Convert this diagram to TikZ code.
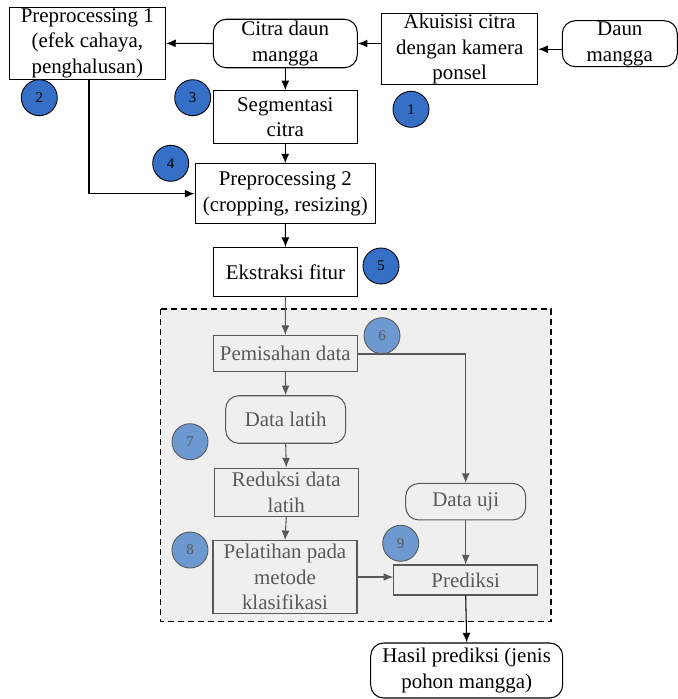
\documentclass[tikz,border=0pt]{standalone}
\usepackage{fontspec}
\setmainfont{Liberation Serif}
\usetikzlibrary{arrows.meta}
\definecolor{numblue}{HTML}{3570C6}
\definecolor{numpale}{HTML}{6E98D0}
\definecolor{fadegray}{HTML}{595959}
\definecolor{areagray}{HTML}{EFEFEF}

\begin{document}
\begin{tikzpicture}[scale=0.2]
\tikzstyle{every node}+=[inner sep=0pt, font=\fontsize{11.9pt}{14.5pt}\selectfont]
\tikzstyle{box}=[draw=black, line width=0.6pt, align=center]
\tikzstyle{rbox}=[box, rounded corners=0.26cm]
\tikzstyle{fbox}=[box, draw=fadegray, text=fadegray]
\tikzstyle{frbox}=[fbox, rounded corners=0.26cm]
\tikzstyle{num}=[circle, draw=black, line width=0.5pt, fill=numblue, minimum size=0.72cm, font=\fontsize{8.5pt}{10pt}\selectfont]
\tikzstyle{fnum}=[num, draw=fadegray, fill=numpale, text=fadegray]
\tikzstyle{arr}=[-{Latex[length=5.5pt,width=4.5pt]}, line width=0.6pt]
\tikzstyle{farr}=[arr, draw=fadegray]

\useasboundingbox (0,0) rectangle (67.8,-69.9);

% grey area
\draw [dash pattern=on 0.12cm off 0.08cm, line width=0.9pt, fill=areagray] (16.07,-30.9) rectangle (55.1,-62.17);

% top row
\draw (8.73,-4.33) node [box, minimum width=3.13cm, minimum height=1.44cm] (pre1) {Preprocessing 1\\(efek cahaya,\\penghalusan)};
\draw (28.53,-4.35) node [rbox, minimum width=2.88cm, minimum height=0.97cm] (citra) {Citra daun\\mangga};
\draw (45.97,-4.92) node [box, minimum width=3.12cm, minimum height=1.43cm] (akuisisi) {Akuisisi citra\\dengan kamera\\ponsel};
\draw (61.98,-4.37) node [rbox, minimum width=2.3cm, minimum height=0.92cm] (daun) {Daun\\mangga};

% middle column
\draw (28.53,-11.73) node [box, minimum width=2.88cm, minimum height=1.06cm] (segmen) {Segmentasi\\citra};
\draw (28.53,-19.37) node [box, minimum width=3.61cm, minimum height=1.19cm] (pre2) {Preprocessing 2\\(cropping, resizing)};
\draw (28.55,-27.18) node [box, minimum width=2.89cm, minimum height=0.97cm] (fitur) {Ekstraksi fitur};

% inside the grey area
\draw (28.53,-35.33) node [fbox, minimum width=2.88cm, minimum height=0.71cm] (pisah) {Pemisahan data};
\draw (28.57,-41.95) node [frbox, minimum width=2.4cm, minimum height=0.95cm] (latih) {Data latih};
\draw (28.63,-49.23) node [fbox, minimum width=2.89cm, minimum height=0.97cm] (reduksi) {Reduksi data\\latih};
\draw (28.5,-57.7) node [fbox, minimum width=2.88cm, minimum height=1.45cm] (latihan) {Pelatihan pada\\metode\\klasifikasi};
\draw (46.57,-50.17) node [frbox, minimum width=2.4cm, minimum height=0.73cm] (uji) {Data uji};
\draw (46.57,-58) node [fbox, minimum width=2.88cm, minimum height=0.6cm] (prediksi) {Prediksi};

\draw (46.67,-67.05) node [rbox, minimum width=3.84cm, minimum height=1.1cm] (hasil) {Hasil prediksi (jenis\\pohon mangga)};

% numbers
\draw (41.1,-10.93) node [num] (n1) {1};
\draw (3.93,-9.77) node [num] (n2) {2};
\draw (19.27,-9.77) node [num] (n3) {3};
\draw (17.07,-16.33) node [num] (n4) {4};
\draw (38.1,-26.6) node [num] (n5) {5};
\draw (38.2,-33.57) node [fnum] (n6) {6};
\draw (19,-44.17) node [fnum] (n7) {7};
\draw (19,-55) node [fnum] (n8) {8};
\draw (40.07,-54.33) node [fnum] (n9) {9};

% connectors
\draw [arr] (daun.west |- akuisisi.east) -- (akuisisi.east);
\draw [arr] (akuisisi.west |- citra.east) -- (citra.east);
\draw [arr] (citra.west) -- (pre1.east);
\draw [arr] (citra.south) -- (segmen.north);
\draw [arr] (segmen.south) -- (pre2.north);
\draw [arr] ([xshift=0.17cm]pre1.south) |- (pre2.west);
\draw [arr] (pre2.south) -- (fitur.north);
\draw [farr] (fitur.south) -- (pisah.north);
\draw [farr] ([yshift=-0.07cm]pisah.east) -| (uji.north);
\draw [farr] (pisah.south) -- (latih.north);
\draw [farr] (latih.south) -- (reduksi.north);
\draw [farr] (reduksi.south) -- (latihan.north);
\draw [farr] (latihan.east) -- (latihan.east -| prediksi.west);
\draw [farr] (uji.south) -- (prediksi.north);
\draw [arr] (prediksi.south) -- (hasil.north);
\end{tikzpicture}
\end{document}
